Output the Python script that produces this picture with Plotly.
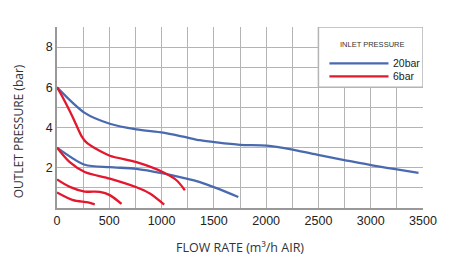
import plotly.graph_objects as go

# 20bar inlet pressure curves (blue)
b1_x = [0, 265, 505, 760, 1015, 1207, 1367, 1526, 1750, 2005, 2228, 2484, 2771, 3026, 3250, 3457]
b1_y = [6.0, 4.73, 4.19, 3.91, 3.75, 3.55, 3.37, 3.26, 3.14, 3.10, 2.93, 2.65, 2.36, 2.11, 1.92, 1.75]
b2_x = [0, 265, 505, 760, 1015, 1207, 1367, 1526, 1734]
b2_y = [3.0, 2.15, 2.03, 1.95, 1.72, 1.50, 1.29, 0.99, 0.55]

# 6bar inlet pressure curves (red)
r1_x = [0, 58, 153, 233, 281, 377, 505, 760, 1015, 1143, 1223]
r1_y = [6.0, 5.47, 4.49, 3.59, 3.26, 2.93, 2.60, 2.28, 1.78, 1.38, 0.88]
r2_x = [0, 122, 265, 505, 760, 888, 1025]
r2_y = [3.0, 2.28, 1.79, 1.46, 1.03, 0.72, 0.17]
r3_x = [0, 122, 265, 409, 505, 617]
r3_y = [1.42, 1.05, 0.82, 0.80, 0.64, 0.20]
r4_x = [0, 153, 297, 361]
r4_y = [0.77, 0.39, 0.28, 0.18]

x_ticks = [0, 500, 1000, 1500, 2000, 2500, 3000, 3500]
y_ticks = [2, 4, 6, 8]

BLUE = "#4a6ab0"
RED = "#e3172d"
GRID = "#b4b4b4"

fig = go.Figure()
for xs, ys in [(b1_x, b1_y), (b2_x, b2_y)]:
    fig.add_trace(go.Scatter(x=xs, y=ys, mode="lines", line=dict(color=BLUE, width=2.3, shape="spline", smoothing=0.8), showlegend=False))
for xs, ys in [(r1_x, r1_y), (r2_x, r2_y), (r3_x, r3_y), (r4_x, r4_y)]:
    fig.add_trace(go.Scatter(x=xs, y=ys, mode="lines", line=dict(color=RED, width=2.3, shape="spline", smoothing=0.8), showlegend=False))

# legend box
fig.add_shape(type="rect", x0=2500, x1=3500, y0=6, y1=9, xref="x", yref="y",
              fillcolor="white", line=dict(color=GRID, width=1.5), layer="above")
fig.add_annotation(x=3011, y=8.12, text="INLET PRESSURE", showarrow=False, xref="x", yref="y",
                   font=dict(family="Liberation Sans, Arial", size=7.5, color="#333"))
fig.add_shape(type="line", x0=2605, x1=3170, y0=7.19, y1=7.19, xref="x", yref="y",
              line=dict(color=BLUE, width=2.3), layer="above")
fig.add_shape(type="line", x0=2605, x1=3170, y0=6.54, y1=6.54, xref="x", yref="y",
              line=dict(color=RED, width=2.3), layer="above")
fig.add_annotation(x=3190, y=7.22, text="20bar", showarrow=False, xanchor="left", xref="x", yref="y",
                   font=dict(family="Liberation Sans, Arial", size=10.5, color="#222"))
fig.add_annotation(x=3190, y=6.57, text="6bar", showarrow=False, xanchor="left", xref="x", yref="y",
                   font=dict(family="Liberation Sans, Arial", size=10.5, color="#222"))

# y axis title (placed like the reference, slightly below centre)
fig.add_annotation(x=-0.104, y=0.423, xref="paper", yref="paper", text="OUTLET PRESSURE (bar)",
                   textangle=-90, showarrow=False, xanchor="center", yanchor="middle",
                   font=dict(family="Open Sans", size=12, color="#333"))

fig.update_layout(
    width=450, height=279,
    margin=dict(l=57, r=27, t=27, b=71),
    paper_bgcolor="white", plot_bgcolor="white",
    xaxis=dict(range=[0, 3500], tickvals=x_ticks, ticktext=[str(v) for v in x_ticks],
               showgrid=True, gridcolor=GRID, gridwidth=1.3,
               minor=dict(dtick=250, showgrid=True, gridcolor=GRID, gridwidth=1.3),
               showline=True, linecolor="#999", linewidth=1.5, mirror=False,
               zeroline=False, ticks="",
               tickfont=dict(family="Liberation Sans, Arial", size=12.5, color="#222"),
               title=dict(text="FLOW RATE (m³/h AIR)", standoff=16,
                          font=dict(family="Open Sans", size=12.5, color="#333"))),
    yaxis=dict(range=[0, 9], tickvals=y_ticks, ticktext=[str(v) for v in y_ticks],
               showgrid=True, gridcolor=GRID, gridwidth=1.3,
               minor=dict(dtick=1, showgrid=True, gridcolor=GRID, gridwidth=1.3),
               showline=True, linecolor="#999", linewidth=1.5,
               zeroline=False, ticks="",
               tickfont=dict(family="Liberation Sans, Arial", size=12.5, color="#222")),
)

fig.write_html("out.html")
